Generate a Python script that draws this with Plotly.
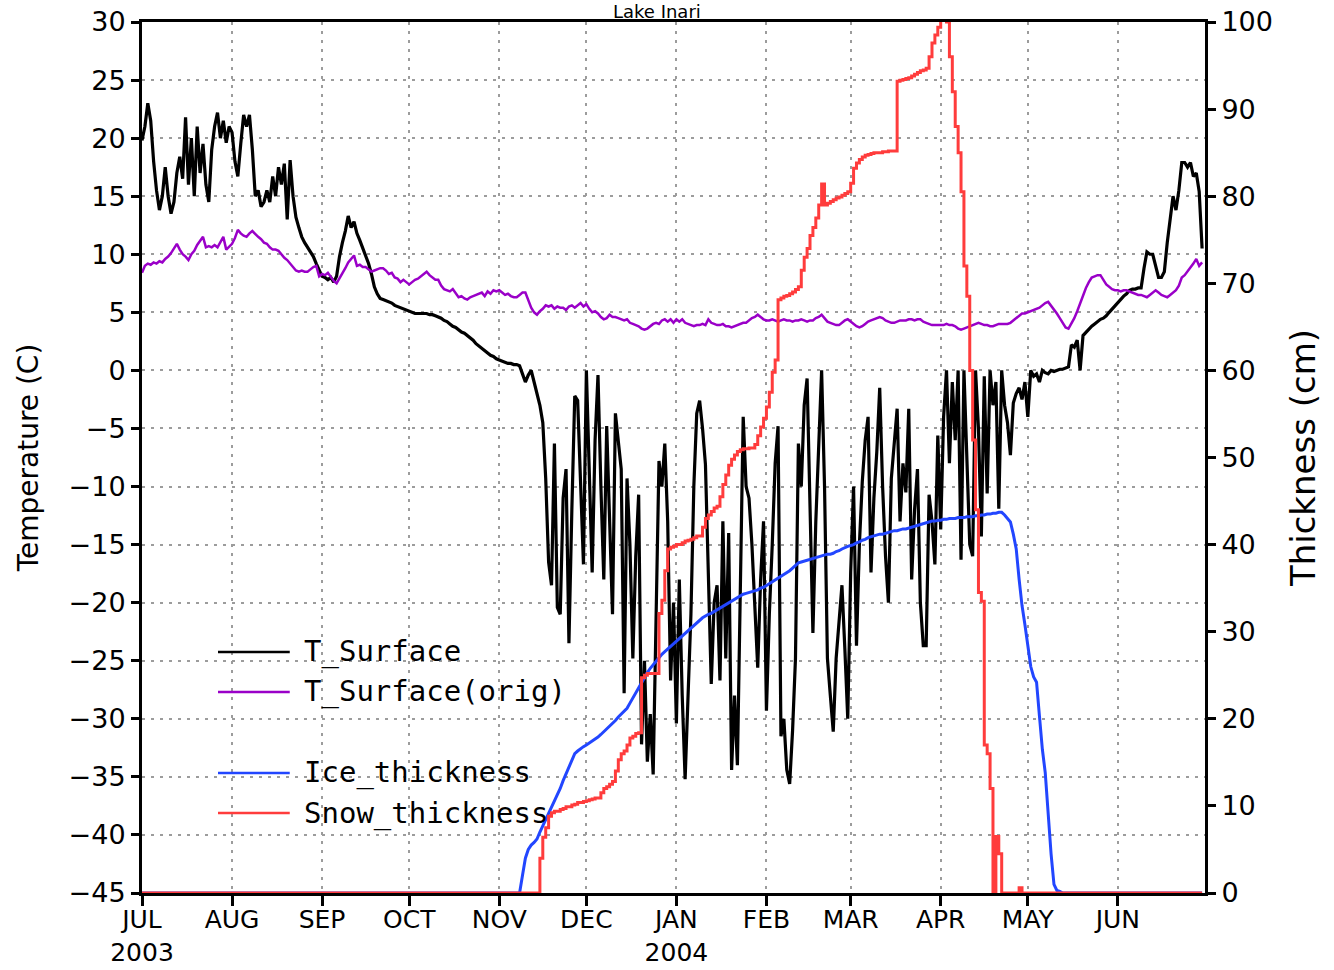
import plotly.graph_objects as go
import pandas as pd

# ---------------- data (daily, 1 Jul 2003 - 30 Jun 2004) ----------------
t_surface = [
    # Jul
    19.8, 21.0, 23.0, 21.5, 18.0, 15.5, 13.8, 15.0, 17.5, 15.0,
    13.5, 14.5, 17.0, 18.4, 16.5, 21.8, 16.0, 20.0, 15.0, 21.0,
    17.0, 19.5, 16.0, 14.5, 19.0, 21.0, 22.2, 20.0, 21.5, 19.6, 21.0,
    # Aug
    20.5, 18.0, 16.7, 19.5, 22.0, 21.0, 22.0, 19.0, 15.0, 15.5,
    14.1, 14.5, 15.5, 14.5, 16.7, 15.0, 17.5, 16.0, 17.8, 13.0,
    18.1, 15.0, 13.2, 12.3, 11.5, 11.0, 10.6, 10.2, 9.8, 9.2, 8.6,
    # Sep
    8.1, 8.0, 7.8, 8.0, 7.6, 8.1, 9.8, 11.0, 12.0, 13.3,
    12.3, 12.8, 11.8, 11.2, 10.5, 10.0, 9.2, 8.3, 7.2, 6.6,
    6.2, 6.1, 6.0, 5.9, 5.8, 5.6, 5.5, 5.4, 5.3, 5.2,
    # Oct
    5.1, 5.0, 4.9, 4.9, 4.9, 4.9, 4.9, 4.8, 4.8, 4.7,
    4.6, 4.5, 4.3, 4.2, 4.0, 3.8, 3.7, 3.5, 3.3, 3.2,
    3.0, 2.8, 2.6, 2.3, 2.1, 1.9, 1.7, 1.5, 1.3, 1.2, 1.0,
    # Nov
    0.9, 0.8, 0.7, 0.6, 0.6, 0.5, 0.5, 0.4, -0.3, -1.0,
    -0.4, 0.0, -1.0, -1.9, -3.0, -4.5, -9.3, -16.5, -18.5, -6.3,
    -20.4, -21.0, -11.0, -8.5, -23.5, -12.0, -2.2, -2.6, -10.0, -16.7,
    # Dec
    0.0, -8.0, -17.4, -6.0, -0.4, -10.0, -18.0, -4.8, -12.0, -21.0,
    -3.7, -6.0, -8.5, -27.8, -9.3, -15.0, -24.8, -16.0, -10.7, -32.2,
    -25.0, -33.7, -29.6, -34.8, -20.0, -7.8, -10.0, -6.3, -13.0, -26.7, -20.0,
    # Jan
    -30.4, -18.0, -28.0, -35.2, -27.0, -21.0, -10.0, -3.7, -2.6, -5.0,
    -8.1, -18.0, -27.0, -20.0, -18.5, -26.7, -13.0, -24.8, -14.0, -34.4,
    -28.0, -34.0, -16.7, -4.0, -10.0, -11.0, -15.0, -20.0, -25.6, -18.0, -13.0,
    # Feb
    -29.3, -21.0, -15.0, -8.0, -4.8, -31.5, -30.0, -34.4, -35.6, -31.0,
    -24.8, -6.3, -10.0, -3.0, -0.7, -12.0, -22.6, -13.0, -6.0, 0.0,
    -10.0, -24.8, -28.0, -31.1, -24.8, -22.0, -18.5, -24.0, -30.0,
    # Mar
    -17.4, -10.0, -23.7, -15.0, -9.6, -6.0, -4.0, -17.4, -11.0, -7.0,
    -1.5, -10.0, -16.0, -20.0, -9.3, -6.0, -3.3, -13.0, -8.0, -10.5,
    -3.3, -18.0, -12.0, -8.5, -20.0, -23.7, -23.7, -10.7, -13.0, -16.7, -5.6,
    # Apr
    -13.7, -4.0, 0.0, -8.0, -1.0, -6.0, 0.0, -16.3, 0.0, -8.0,
    -15.0, -16.0, 0.0, -5.0, -14.3, -0.5, -10.6, 0.0, -3.0, -1.0,
    -11.9, 0.0, -3.0, -4.5, -7.3, -2.8, -2.0, -1.5, -2.5, -1.0,
    # May
    -4.0, 0.0, -0.5, -0.3, -1.0, 0.0, -0.2, -0.3, 0.0, -0.1,
    0.0, 0.1, 0.1, 0.2, 0.3, 2.2, 2.0, 2.6, 0.0, 3.0,
    3.3, 3.6, 3.8, 4.0, 4.2, 4.4, 4.5, 4.7, 5.0, 5.3, 5.6,
    # Jun
    5.9, 6.2, 6.4, 6.6, 6.9, 7.0, 7.0, 7.1, 7.1, 8.8,
    10.2, 10.0, 10.0, 9.0, 8.0, 8.0, 8.5, 11.0, 12.9, 15.0,
    13.8, 15.5, 17.9, 17.9, 17.5, 17.9, 16.7, 17.0, 15.4, 10.5,
]

t_surface_orig = [
    # Jul
    8.4, 9.0, 9.2, 9.1, 9.3, 9.2, 9.4, 9.3, 9.6, 9.8,
    10.1, 10.5, 10.9, 10.4, 10.0, 9.8, 9.5, 10.0, 10.3, 10.8,
    11.2, 11.5, 10.6, 10.7, 10.6, 10.8, 10.6, 11.0, 11.5, 10.4, 10.7,
    # Aug
    10.9, 11.4, 12.1, 11.8, 11.6, 11.5, 11.8, 12.0, 11.7, 11.5,
    11.3, 11.0, 10.9, 10.6, 10.4, 10.4, 10.3, 10.0, 9.7, 9.5,
    9.2, 8.9, 8.6, 8.5, 8.6, 8.5, 8.5, 8.7, 8.9, 9.0, 8.1,
    # Sep
    8.3, 8.2, 8.4, 8.0, 7.7, 7.5, 7.9, 8.3, 8.8, 9.3,
    9.6, 9.9, 9.0, 9.1, 8.9, 8.9, 8.7, 8.5, 8.6, 8.7,
    8.8, 8.8, 8.6, 8.3, 8.4, 8.0, 7.9, 7.6, 7.8, 7.6,
    # Oct
    7.4, 7.6, 7.8, 7.9, 8.1, 8.3, 8.5, 8.2, 8.0, 7.8,
    7.8, 7.3, 7.0, 6.9, 6.8, 7.0, 6.6, 6.3, 6.4, 6.2,
    6.1, 6.3, 6.4, 6.5, 6.6, 6.7, 6.4, 6.8, 6.6, 6.9, 6.8,
    # Nov
    6.9, 6.7, 6.5, 6.6, 6.4, 6.3, 6.3, 6.5, 6.7, 6.7,
    6.0, 5.4, 5.0, 4.8, 5.1, 5.3, 5.6, 5.5, 5.6, 5.3,
    5.5, 5.4, 5.4, 5.2, 5.5, 5.6, 5.4, 5.6, 5.8, 5.5,
    # Dec
    5.7, 5.3, 5.0, 5.1, 4.9, 4.6, 4.4, 4.5, 4.8, 4.6,
    4.6, 4.5, 4.4, 4.3, 4.4, 4.1, 4.0, 3.9, 3.8, 3.6,
    3.5, 3.6, 3.8, 4.0, 4.1, 4.0, 4.3, 4.4, 4.2, 4.4, 4.1,
    # Jan
    4.4, 4.2, 4.4, 4.1, 4.0, 3.9, 3.8, 3.9, 3.9, 4.0,
    3.9, 4.4, 4.1, 4.0, 3.9, 3.9, 4.0, 3.8, 3.8, 3.7,
    3.8, 3.9, 4.0, 4.1, 4.1, 4.3, 4.5, 4.6, 4.8, 4.6, 4.4,
    # Feb
    4.3, 4.3, 4.4, 4.3, 4.2, 4.3, 4.4, 4.3, 4.3, 4.2,
    4.3, 4.3, 4.4, 4.3, 4.2, 4.3, 4.3, 4.5, 4.6, 4.8,
    4.5, 4.2, 4.1, 4.0, 3.9, 3.9, 4.1, 4.3, 4.4,
    # Mar
    4.2, 4.0, 3.8, 3.7, 3.8, 4.0, 4.2, 4.3, 4.4, 4.5,
    4.6, 4.5, 4.3, 4.2, 4.1, 4.1, 4.2, 4.3, 4.3, 4.3,
    4.4, 4.4, 4.3, 4.4, 4.4, 4.2, 4.1, 4.0, 3.9, 3.9, 3.9,
    # Apr
    3.9, 3.9, 4.0, 3.9, 3.9, 3.8, 3.6, 3.5, 3.6, 3.7,
    3.8, 3.9, 4.0, 4.1, 4.0, 3.9, 3.9, 3.8, 3.8, 3.9,
    4.0, 4.0, 4.0, 4.0, 4.1, 4.3, 4.5, 4.7, 4.9, 4.9,
    # May
    5.0, 5.1, 5.2, 5.3, 5.4, 5.6, 5.8, 5.9, 5.6, 5.2,
    4.9, 4.5, 4.1, 3.7, 3.6, 4.0, 4.5, 5.1, 5.8, 6.5,
    7.1, 7.6, 8.0, 8.1, 8.2, 8.2, 7.8, 7.4, 7.2, 7.0, 6.9,
    # Jun
    6.9, 6.8, 6.9, 6.9, 6.8, 6.7, 6.6, 6.5, 6.5, 6.4,
    6.3, 6.5, 6.7, 6.9, 6.7, 6.5, 6.4, 6.3, 6.5, 6.7,
    6.9, 7.3, 8.0, 8.2, 8.5, 8.8, 9.2, 9.6, 9.0, 9.3,
]

ice_thickness = [
    # Jul
    0, 0, 0, 0, 0, 0, 0, 0, 0, 0, 0, 0, 0, 0, 0, 0, 0, 0, 0, 0,
    0, 0, 0, 0, 0, 0, 0, 0, 0, 0, 0,
    # Aug
    0, 0, 0, 0, 0, 0, 0, 0, 0, 0, 0, 0, 0, 0, 0, 0, 0, 0, 0, 0,
    0, 0, 0, 0, 0, 0, 0, 0, 0, 0, 0,
    # Sep
    0, 0, 0, 0, 0, 0, 0, 0, 0, 0, 0, 0, 0, 0, 0, 0, 0, 0, 0, 0,
    0, 0, 0, 0, 0, 0, 0, 0, 0, 0,
    # Oct
    0, 0, 0, 0, 0, 0, 0, 0, 0, 0, 0, 0, 0, 0, 0, 0, 0, 0, 0, 0,
    0, 0, 0, 0, 0, 0, 0, 0, 0, 0, 0,
    # Nov
    0, 0, 0, 0, 0, 0, 0, 0,
    2.0, 4.0, 5.0, 5.5, 5.8, 6.2, 7.0, 7.7, 8.4, 9.1, 9.8,
    10.5, 11.2, 12.0, 12.9, 13.7, 14.6, 15.4, 16.0, 16.3, 16.6, 16.8,
    # Dec
    17.0, 17.2, 17.5, 17.7, 17.9, 18.2, 18.5, 18.8, 19.1, 19.5,
    19.8, 20.2, 20.5, 20.9, 21.2, 21.8, 22.4, 23.0, 23.6, 24.2,
    24.8, 25.3, 25.8, 26.2, 26.7, 27.1, 27.4, 27.7, 28.0, 28.3, 28.6,
    # Jan
    28.9, 29.2, 29.5, 29.9, 30.2, 30.5, 30.8, 31.1, 31.4, 31.6,
    31.8, 32.0, 32.1, 32.3, 32.5, 32.6, 32.8, 33.1, 33.3, 33.5,
    33.7, 33.9, 34.1, 34.3, 34.4, 34.5, 34.6, 34.7, 34.8, 35.0, 35.1,
    # Feb
    35.3, 35.5, 35.7, 35.9, 36.2, 36.4, 36.6, 36.8, 37.0, 37.3,
    37.6, 37.9, 38.0, 38.1, 38.2, 38.3, 38.4, 38.5, 38.6, 38.7,
    38.8, 38.9, 38.9, 39.0, 39.2, 39.3, 39.5, 39.7, 39.8,
    # Mar
    39.9, 40.0, 40.2, 40.3, 40.5, 40.6, 40.8, 40.9, 41.0, 41.1,
    41.2, 41.2, 41.3, 41.4, 41.5, 41.6, 41.6, 41.7, 41.8, 41.8,
    41.9, 42.0, 42.1, 42.2, 42.3, 42.4, 42.5, 42.6, 42.7, 42.7, 42.8,
    # Apr
    42.8, 42.9, 42.9, 43.0, 43.0, 43.0, 43.1, 43.1, 43.1, 43.2,
    43.2, 43.2, 43.3, 43.3, 43.4, 43.4, 43.5, 43.5, 43.6, 43.6,
    43.7, 43.7, 43.4, 43.0, 42.6, 41.2, 39.5, 36.0, 33.0, 30.8,
    # May
    28.6, 26.0, 24.8, 24.2, 20.3, 16.5, 13.8, 9.0, 4.5, 1.0,
    0.3, 0.2, 0, 0, 0, 0, 0, 0, 0, 0,
    0, 0, 0, 0, 0, 0, 0, 0, 0, 0, 0,
    # Jun
    0, 0, 0, 0, 0, 0, 0, 0, 0, 0, 0, 0, 0, 0, 0, 0, 0, 0, 0, 0,
    0, 0, 0, 0, 0, 0, 0, 0, 0, 0,
]

snow_thickness = [
    # Jul
    0, 0, 0, 0, 0, 0, 0, 0, 0, 0, 0, 0, 0, 0, 0, 0, 0, 0, 0, 0,
    0, 0, 0, 0, 0, 0, 0, 0, 0, 0, 0,
    # Aug
    0, 0, 0, 0, 0, 0, 0, 0, 0, 0, 0, 0, 0, 0, 0, 0, 0, 0, 0, 0,
    0, 0, 0, 0, 0, 0, 0, 0, 0, 0, 0,
    # Sep
    0, 0, 0, 0, 0, 0, 0, 0, 0, 0, 0, 0, 0, 0, 0, 0, 0, 0, 0, 0,
    0, 0, 0, 0, 0, 0, 0, 0, 0, 0,
    # Oct
    0, 0, 0, 0, 0, 0, 0, 0, 0, 0, 0, 0, 0, 0, 0, 0, 0, 0, 0, 0,
    0, 0, 0, 0, 0, 0, 0, 0, 0, 0, 0,
    # Nov
    0, 0, 0, 0, 0, 0, 0, 0, 0, 0, 0, 0, 0,
    0.0, 4.0, 6.4, 7.5, 8.8, 9.2, 9.4, 9.4, 9.6, 9.7,
    9.9, 9.9, 10.1, 10.2, 10.4, 10.4, 10.5,
    # Dec
    10.6, 10.7, 10.8, 10.9, 10.9, 11.5, 12.0, 12.2, 12.5, 12.8,
    14.0, 15.3, 16.0, 16.3, 17.0, 17.8, 18.0, 18.3, 18.4, 24.7,
    25.0, 25.2, 25.2, 25.2, 25.2, 32.1, 33.6, 37.0, 39.5, 39.7, 39.8,
    # Jan
    40.0, 40.0, 40.2, 40.4, 40.5, 40.6, 40.8, 41.0, 41.0, 42.0,
    43.0, 43.4, 43.8, 44.2, 44.4, 45.5, 46.9, 48.0, 49.1, 49.8,
    50.3, 50.7, 50.9, 51.0, 51.0, 51.1, 51.1, 51.5, 52.5, 53.5, 54.5,
    # Feb
    55.8, 57.5, 59.8, 61.2, 68.1, 68.3, 68.5, 68.6, 68.8, 69.0,
    69.3, 69.6, 71.5, 73.0, 74.0, 75.5, 76.4, 77.5, 79.0, 81.4,
    79.0, 79.2, 79.4, 79.6, 79.8, 79.9, 80.1, 80.3, 80.5,
    # Mar
    81.5, 83.2, 83.8, 84.2, 84.5, 84.7, 84.8, 84.9, 85.0, 85.0,
    85.0, 85.1, 85.1, 85.2, 85.2, 85.2, 93.2, 93.3, 93.4, 93.5,
    93.6, 93.8, 94.0, 94.2, 94.4, 94.5, 94.7, 96.0, 97.6, 98.5, 99.4,
    # Apr
    101.0, 101.0, 100.0, 96.0, 92.0, 88.0, 85.0, 80.5, 72.0, 68.5,
    60.0, 52.0, 44.0, 34.5, 33.5, 17.0, 16.0, 12.0, 0.0, 6.5,
    4.5, 0.0, 0.0, 0.0, 0.0, 0.0, 0.0, 0.6, 0.0, 0.0,
    # May
    0, 0, 0, 0, 0, 0, 0, 0, 0, 0, 0, 0, 0, 0, 0, 0, 0, 0, 0, 0,
    0, 0, 0, 0, 0, 0, 0, 0, 0, 0, 0,
    # Jun
    0, 0, 0, 0, 0, 0, 0, 0, 0, 0, 0, 0, 0, 0, 0, 0, 0, 0, 0, 0,
    0, 0, 0, 0, 0, 0, 0, 0, 0, 0,
]

month_ticks = ["2003-07-01", "2003-08-01", "2003-09-01", "2003-10-01",
               "2003-11-01", "2003-12-01", "2004-01-01", "2004-02-01",
               "2004-03-01", "2004-04-01", "2004-05-01", "2004-06-01"]
month_labels = ["JUL<br>2003", "AUG", "SEP", "OCT", "NOV", "DEC",
                "JAN<br>2004", "FEB", "MAR", "APR", "MAY", "JUN"]

series_names = ["T_Surface", "T_Surface(orig)", "Ice_thickness", "Snow_thickness"]
series_colors = ["#000000", "#9A00C8", "#2246FF", "#FF3C3C"]

# ---------------- figure ----------------
def days(vals):
    return pd.date_range("2003-07-01", periods=len(vals), freq="D")

fig = go.Figure()
fig.add_trace(go.Scatter(x=days(t_surface), y=t_surface, mode="lines",
                         name=series_names[0],
                         line=dict(color=series_colors[0], width=3.2)))
fig.add_trace(go.Scatter(x=days(t_surface_orig), y=t_surface_orig, mode="lines",
                         name=series_names[1],
                         line=dict(color=series_colors[1], width=2.5)))
fig.add_trace(go.Scatter(x=days(ice_thickness), y=ice_thickness, mode="lines",
                         name=series_names[2], yaxis="y2",
                         line=dict(color=series_colors[2], width=3)))
fig.add_trace(go.Scatter(x=days(snow_thickness), y=snow_thickness, mode="lines",
                         name=series_names[3], yaxis="y2",
                         line=dict(color=series_colors[3], width=3, shape="hv")))

grid = dict(showgrid=True, gridcolor="#9c9c9c", gridwidth=1.5, griddash="3px,6px")
axis_common = dict(showline=True, linecolor="black", linewidth=3,
                   ticks="outside", tickcolor="black", tickwidth=2.5,
                   zeroline=False, automargin=False)
tickfont = dict(family="DejaVu Sans", size=27, color="black")

fig.update_layout(
    width=1334, height=970,
    margin=dict(l=142, r=129, t=22, b=77, autoexpand=False),
    plot_bgcolor="white", paper_bgcolor="white",
    showlegend=False,
    font=dict(family="DejaVu Sans", size=27, color="black"),
    xaxis=dict(type="date", range=["2003-07-01", "2004-07-01"],
               tickmode="array", tickvals=month_ticks, ticktext=month_labels,
               ticklen=10, mirror=True,
               tickfont=dict(family="DejaVu Sans", size=25, color="black"),
               ticklabelstandoff=-8,
               **axis_common, **grid),
    yaxis=dict(range=[-45, 30], tickmode="linear", tick0=-45, dtick=5,
               ticklen=8, tickfont=tickfont,
               title=dict(text="Temperature (C)", standoff=22,
                          font=dict(family="DejaVu Sans", size=28)),
               **axis_common, **grid),
    yaxis2=dict(range=[0, 100], overlaying="y", side="right",
                tickmode="linear", tick0=0, dtick=10, ticklen=8,
                tickfont=tickfont, showgrid=False,
                title=dict(text="Thickness (cm)", standoff=20,
                           font=dict(family="DejaVu Sans", size=34)),
                **axis_common),
)

# title (in the narrow top strip, as in the original)
fig.add_annotation(text="Lake Inari", xref="paper", yref="paper",
                   x=0.4845, y=1.0253, xanchor="center", yanchor="top",
                   showarrow=False, borderpad=0,
                   font=dict(family="DejaVu Sans", size=18, color="black"))

# in-plot legend
legend_rows = [0.2767, 0.2308, 0.1378, 0.0918]
for name, color, yrow in zip(series_names, series_colors, legend_rows):
    fig.add_shape(type="line", xref="paper", yref="paper",
                  x0=0.0715, x1=0.139, y0=yrow, y1=yrow,
                  line=dict(color=color, width=2.5))
    fig.add_annotation(text=name, xref="paper", yref="paper",
                       x=0.1505, y=yrow, xanchor="left", yanchor="middle",
                       showarrow=False,
                       font=dict(family="DejaVu Sans Mono", size=29, color="black"))

fig.write_html("out.html",
               config={"displayModeBar": False},
               post_script="document.body.style.margin='0px';"
                           "document.body.style.overflow='hidden';")
